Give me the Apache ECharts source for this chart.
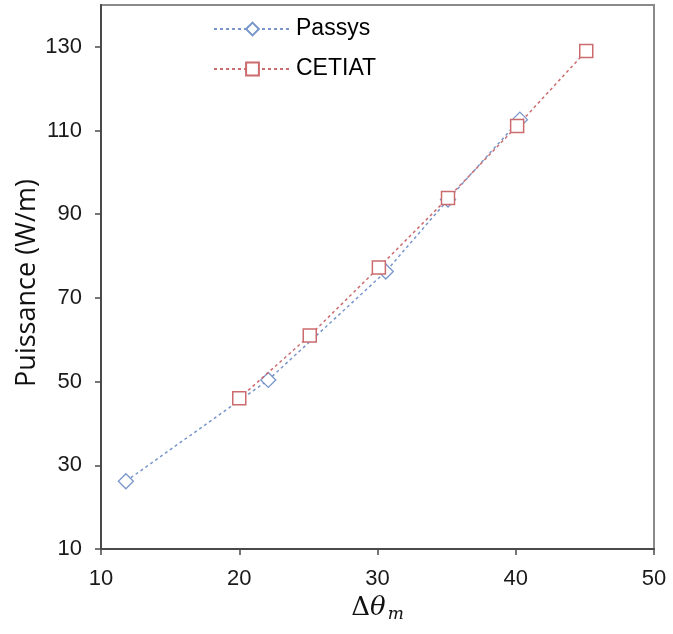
<!DOCTYPE html>
<html>
<head>
<meta charset="utf-8">
<script src="https://cdn.jsdelivr.net/npm/echarts@6/dist/echarts.min.js"></script>
<style>html,body{margin:0;padding:0;background:#fff}#c{width:673px;height:634px}</style>
</head>
<body>
<div id="c"></div>
<script>
const seriesNames = ['Passys', 'CETIAT'];
const passysX = [11.8, 22.1, 30.6, 35.1, 40.3];
const passysY = [26.2, 50.4, 76.3, 93.5, 112.6];
const cetiatX = [20.0, 25.1, 30.1, 35.1, 40.1, 45.1];
const cetiatY = [46.0, 61.0, 77.3, 93.9, 111.1, 129.0];
const xTicks = [10, 20, 30, 40, 50];
const yTicks = [10, 30, 50, 70, 90, 110, 130];

const blue = '#7896cb';
const red = '#cc6b6e';

const chart = echarts.init(document.getElementById('c'), null, {renderer: 'canvas'});
chart.setOption({
  animation: false,
  backgroundColor: '#fff',
  grid: {left: 101, right: 19, top: 5, bottom: 85, containLabel: false, outerBoundsMode: 'none',
    show: true, borderColor: '#8a8a8a', borderWidth: 2, backgroundColor: 'transparent'},
  legend: {
    orient: 'vertical', left: 213, top: 16, padding: 0,
    itemWidth: 77, itemHeight: 16, itemGap: 14,
    textStyle: {fontFamily: 'Liberation Sans', fontSize: 23, color: '#000', lineHeight: 26},
    data: seriesNames
  },
  xAxis: {
    type: 'value', min: 10, max: 50, interval: 10,
    name: '{d|Δ}{t|θ}{s|m}', nameLocation: 'middle', nameGap: 41,
    nameTextStyle: {
      rich: {
        d: {fontFamily: 'DejaVu Serif', fontSize: 26, color: '#111'},
        t: {fontFamily: 'DejaVu Serif', fontStyle: 'italic', fontSize: 26, color: '#111'},
        s: {fontFamily: 'DejaVu Serif', fontStyle: 'italic', fontSize: 17, color: '#111', padding: [14, 0, 0, 2]}
      }
    },
    axisLine: {lineStyle: {color: '#4a4a4a', width: 2}},
    axisTick: {show: true, inside: false, length: 6, customValues: xTicks, lineStyle: {color: '#4a4a4a', width: 1.5}},
    axisLabel: {fontFamily: 'Liberation Sans', fontSize: 22, color: '#1a1a1a', margin: 19, customValues: xTicks},
    splitLine: {show: false}
  },
  yAxis: {
    type: 'value', min: 10, max: 140, interval: 20,
    name: 'Puissance (W/m)', nameLocation: 'middle', nameGap: 60, nameRotate: 90, nameMoveOverlap: false,
    nameTextStyle: {fontFamily: 'Open Sans', fontSize: 27, color: '#111', padding: [0, 12, 0, 0]},
    axisLine: {lineStyle: {color: '#4a4a4a', width: 2}},
    axisTick: {show: true, inside: false, length: 6, customValues: yTicks, lineStyle: {color: '#4a4a4a', width: 1.5}},
    axisLabel: {fontFamily: 'Liberation Sans', fontSize: 22, color: '#1a1a1a', margin: 19, customValues: yTicks},
    splitLine: {show: false}
  },
  series: [
    {
      name: seriesNames[0], type: 'line',
      data: passysX.map((x, i) => [x, passysY[i]]),
      symbol: 'diamond', symbolSize: 15,
      lineStyle: {color: blue, width: 1.5, type: [3, 3]},
      itemStyle: {color: '#fff', borderColor: blue, borderWidth: 1.3},
      z: 2
    },
    {
      name: seriesNames[1], type: 'line',
      data: cetiatX.map((x, i) => [x, cetiatY[i]]),
      symbol: 'rect', symbolSize: 13,
      lineStyle: {color: red, width: 1.5, type: [3, 3]},
      itemStyle: {color: '#fff', borderColor: red, borderWidth: 1.5},
      z: 3
    }
  ]
});
</script>
</body>
</html>
